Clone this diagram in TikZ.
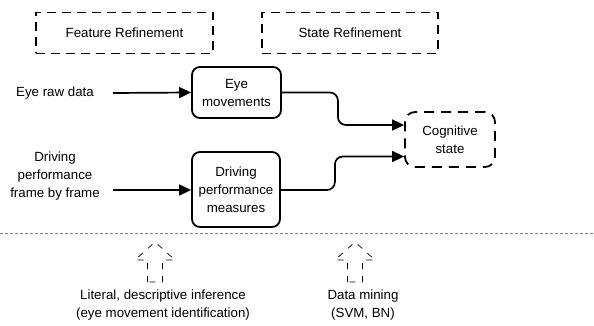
\documentclass[tikz,border=0pt]{standalone}
\usepackage{fontspec}
\setmainfont{Liberation Sans}
\usetikzlibrary{arrows.meta}
\usetikzlibrary{positioning}
\tikzset{
  stage/.style={draw, dash pattern=on 9pt off 6pt, line width=1.2pt,
    minimum width=177pt, minimum height=41pt},
  proc/.style={draw, rounded corners=8pt, line width=1.8pt, align=center, inner sep=1pt},
  feed/.style={-{Triangle[length=12pt,width=11pt]}, line width=1.7pt},
  lbl/.style={align=center, inner sep=0pt},
  upshape/.style={dash pattern=on 6pt off 7pt, line width=0.7pt},
}

\begin{document}
\begin{tikzpicture}[x=1pt, y=-1pt, font=\fontsize{13.3}{18}\selectfont]
          \useasboundingbox (0,0) rectangle (594,326);

          % the two refinement stages
          \node [stage] (feat) at (124.5,33) {Feature Refinement};
          \node [stage, minimum width=176pt] (state) at (350,33) {State Refinement};

          % inputs
          \node [lbl] (eyeraw) at (55,93) {Eye raw data};
          \node [lbl] (drvraw) at (55,176) {Driving\\performance\\frame by frame};
          \coordinate (eyein) at (113,93);
          \coordinate (drvin) at (113,190);

          % processing boxes
          \node [proc, minimum width=89pt, minimum height=51pt] (eyemov) at (236.5,92.5) {Eye\\movements};
          \node [proc, minimum width=88pt, minimum height=75pt] (drvmeas) at (236,189.5) {Driving\\performance\\measures};
          \node [proc, dash pattern=on 10pt off 7pt, rounded corners=10pt,
                 minimum width=90pt, minimum height=55pt] (cog) at (450,139.5) {Cognitive\\state};

        \draw [feed] (eyein) -- (eyemov.west);
        \draw [feed] (drvin) -- (drvin -| drvmeas.west);
        \draw [feed, rounded corners=8pt] (eyemov.east) -- ++(56,0) |- ([yshift=14.5pt]cog.west);
        \draw [feed, rounded corners=8pt] (drvin -| drvmeas.east) -- ++(54,0) |- ([yshift=-17pt]cog.west);

          % separator
          \draw [gray, dash pattern=on 3pt off 2pt, line width=0.5pt] (0,233) -- (594,233);

          % inference arrows
          \draw [upshape, shift={(155,0)}] (-7.5,282) -- (-7.5,260) -- (-20,260) -- (0,242)
                -- (20,260) -- (7.5,260) -- (7.5,282) -- cycle;
          \draw [upshape, shift={(355,0)}] (-7.5,282) -- (-7.5,260) -- (-20,260) -- (0,242)
                -- (20,260) -- (7.5,260) -- (7.5,282) -- cycle;
          \node [lbl] (literal) at (163,305) {Literal, descriptive inference\\(eye movement identification)};
          \node [lbl] (mining) at (363,305) {Data mining\\(SVM, BN)};
\end{tikzpicture}
\end{document}
